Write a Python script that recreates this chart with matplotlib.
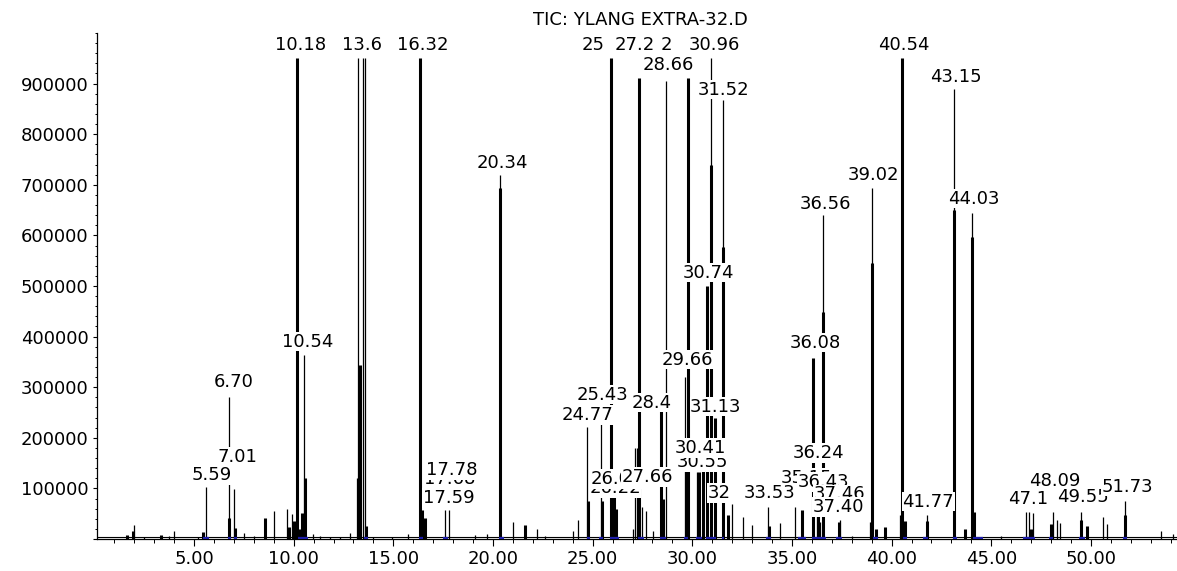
import matplotlib
matplotlib.use("Agg")
import matplotlib.pyplot as plt
from matplotlib.ticker import MultipleLocator, FixedLocator, FuncFormatter

plt.rcParams['font.family'] = ['DejaVu Sans']

title = "TIC: YLANG EXTRA-32.D"

# broad (wide) peaks: retention time (min), abundance
broad_rt = [1.62, 1.95, 3.34, 5.45, 6.76, 7.05, 8.55, 9.77, 10.00, 10.18, 10.32, 10.43,
            10.56, 13.32, 13.65, 16.32, 16.45, 16.60, 20.34, 21.62, 24.77, 25.45, 25.90,
            26.05, 26.15, 27.33, 28.45, 28.55, 29.70, 29.78, 30.35, 30.55, 30.74, 30.96,
            31.13, 31.52, 31.80, 33.85, 35.50, 36.08, 36.30, 36.56, 37.35, 39.00, 39.20,
            39.67, 40.54, 40.65, 41.77, 43.15, 43.70, 44.03, 44.15, 47.00, 48.00, 49.50,
            49.80, 51.73]
broad_h = [8000, 16000, 8000, 13000, 41000, 22000, 41000, 24000, 35000, 950000, 20000, 52000,
           120000, 344000, 25000, 950000, 57000, 41000, 693000, 27000, 75000, 75000, 950000,
           84000, 60000, 911000, 265000, 80000, 136000, 911000, 133000, 150000, 500000, 739000,
           240000, 577000, 47000, 25000, 57000, 358000, 54000, 449000, 34000, 545000, 20000,
           24000, 950000, 35000, 35000, 650000, 20000, 597000, 54000, 20000, 30000, 37000,
           25000, 47000]

# narrow (spike) peaks: retention time (min), abundance
narrow_rt = [2.00, 2.50, 3.74, 4.01, 5.18, 5.61, 6.74, 7.02, 7.52, 8.00, 9.03, 9.65, 9.90,
             10.54, 10.97, 11.30, 11.80, 12.30, 12.80, 13.16, 13.23, 13.47, 13.59, 14.00,
             14.93, 15.73, 17.59, 17.78, 19.10, 19.68, 20.34, 20.98, 22.20, 22.60, 24.03,
             24.28, 24.73, 25.42, 27.00, 27.12, 27.25, 27.50, 27.66, 28.03, 28.68, 29.62,
             30.22, 30.96, 31.52, 31.98, 32.54, 32.98, 33.81, 34.40, 35.15, 36.24, 36.43,
             36.56, 37.40, 38.00, 38.90, 39.02, 40.40, 41.77, 43.15, 44.03, 45.50, 46.75,
             46.90, 47.08, 48.09, 48.28, 48.45, 49.49, 50.62, 50.80, 51.73, 53.50, 54.10]
narrow_h = [28000, 3000, 5000, 16000, 3000, 103000, 281000, 99000, 12500, 5000, 55000, 59000, 48800,
            364000, 10000, 5000, 4000, 4000, 12000, 120000, 950000, 950000, 950000, 3000,
            4000, 10000, 57000, 57000, 8000, 10000, 720000, 34000, 19000, 6000, 16000,
            37500, 222000, 265000, 20000, 180000, 180000, 64000, 55000, 15000, 905000, 320000,
            133000, 951000, 868000, 70000, 44000, 28000, 64000, 32000, 64000, 120000, 33000,
            640000, 37000, 5000, 34000, 694000, 47000, 47000, 890000, 644000, 5000, 54000,
            54000, 51000, 54000, 38000, 32000, 54000, 44000, 30000, 75000, 15000, 10000]

baseline_level = 3000

# integration baseline marks (blue)
blue_start = [5.45, 6.70, 7.00, 10.20, 13.55, 16.30, 17.50, 20.30, 24.70, 25.30, 25.85, 27.30,
              28.40, 29.60, 30.20, 30.70, 31.50, 33.70, 35.30, 36.00, 37.20, 39.05, 40.55,
              41.60, 43.10, 44.10, 46.60, 47.90, 49.40, 51.60]
blue_end = [5.75, 6.85, 7.15, 10.70, 13.75, 16.50, 17.75, 20.55, 24.85, 25.50, 26.30, 27.60,
            28.70, 29.80, 30.50, 31.20, 31.60, 33.95, 35.70, 36.70, 37.50, 39.30, 40.75,
            41.85, 43.30, 44.60, 47.20, 48.10, 49.70, 51.80]

# peak labels (drawn in this order; later ones cover earlier ones)
label_text = ["10.18", "13.6", "16.32", "25", "27.2", "2", "30.96", "40.54",
              "28.66", "43.15", "31.52", "20.34", "39.02", "44.03", "36.56", "30.74",
              "10.54", "36.08", "29.66", "6.70", "24.77", "25.43", "28.4", "31.13",
              "30.55", "30.41", "7.01", "36.24", "17.68", "17.78", "17.59", "5.59",
              "26.22", "26.05", "27.66", "32", "35.15", "33.53", "36.43", "37.46",
              "37.40", "41.77", "48.09", "47.1", "49.55", "51.73"]
label_rt = [10.32, 13.45, 16.46, 25.04, 27.12, 28.70, 31.11, 40.62,
            28.80, 43.22, 31.56, 20.45, 39.08, 44.12, 36.66, 30.81,
            10.68, 36.16, 29.76, 6.97, 24.74, 25.49, 27.98, 31.18,
            30.50, 30.39, 7.20, 36.31, 17.85, 17.93, 17.76, 5.89,
            26.12, 26.17, 27.75, 31.34, 35.72, 33.90, 36.60, 37.40,
            37.32, 41.84, 48.20, 46.86, 49.60, 51.84]
label_y = [976600, 976600, 976600, 976600, 976600, 976600, 976600, 976600,
           937100, 913400, 887700, 743400, 719600, 672200, 662300, 525900,
           390100, 387500, 353900, 311000, 245100, 284700, 268900, 261000,
           152200, 179900, 162700, 170000, 118600, 136400, 81100, 126500,
           100800, 118600, 122600, 90900, 120600, 90900, 112700, 88000,
           63300, 73700, 115300, 79100, 83000, 103400]

fig = plt.figure(figsize=(11.77, 5.71), dpi=100)
ax = fig.add_axes([97 / 1177, 32 / 571, 1080 / 1177, 506 / 571])
ax.set_xlim(0.13, 54.32)
ax.set_ylim(0, 1000000)

for s in ['top', 'right']:
    ax.spines[s].set_visible(False)
for s in ['left', 'bottom']:
    ax.spines[s].set_linewidth(0.9)

ax.axhline(baseline_level, color='black', lw=0.8, zorder=2)
ax.vlines(broad_rt, 0, broad_h, colors='black', linewidths=2.2, zorder=2)
ax.vlines(narrow_rt, 0, narrow_h, colors='black', linewidths=0.9, zorder=2)
ax.hlines([1500] * len(blue_start), blue_start, blue_end, colors='#1c1ca8',
          linewidths=1.6, zorder=3)

for i, (txt, x, y) in enumerate(zip(label_text, label_rt, label_y)):
    ax.text(x, y, txt, ha='center', va='center', fontsize=13, color='black',
            bbox=dict(facecolor='white', edgecolor='none', pad=0.4),
            zorder=10 + i, clip_on=False)

fig.text(640 / 1177, 1 - 20 / 571, title, ha='center', va='center', fontsize=13)

ax.xaxis.set_major_locator(MultipleLocator(5))
ax.xaxis.set_minor_locator(MultipleLocator(1))
ax.xaxis.set_major_formatter(FuncFormatter(lambda v, p: f"{v:.2f}"))
ax.yaxis.set_major_locator(FixedLocator([i * 100000 for i in range(0, 10)]))
ax.yaxis.set_minor_locator(MultipleLocator(20000))
ax.yaxis.set_major_formatter(FuncFormatter(lambda v, p: "" if v == 0 else f"{int(v)}"))

ax.tick_params(axis='y', which='major', direction='out', length=2.6, width=0.8,
               pad=3.6, labelsize=13)
ax.tick_params(axis='y', which='minor', direction='out', length=1.7, width=0.7)
ax.tick_params(axis='x', which='major', direction='out', length=5, width=0.8,
               pad=3.2, labelsize=13)
ax.tick_params(axis='x', which='minor', direction='out', length=3, width=0.7)

fig.savefig("out.png", dpi=100)
